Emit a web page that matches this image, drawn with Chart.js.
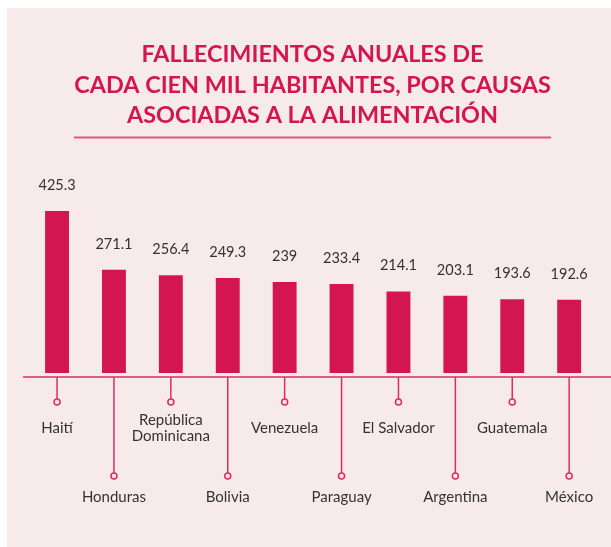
<!DOCTYPE html>
<html>
<head>
<meta charset="utf-8">
<script src="https://cdn.jsdelivr.net/npm/chart.js@4"></script>
<style>
  html, body { margin: 0; padding: 0; background: #ffffff; }
  #wrap { width: 611px; height: 547px; position: relative; }
</style>
</head>
<body>
<div id="wrap"><canvas id="c" width="611" height="547"></canvas></div>
<script>
const titleLines = [
  "FALLECIMIENTOS ANUALES DE",
  "CADA CIEN MIL HABITANTES, POR CAUSAS",
  "ASOCIADAS A LA ALIMENTACIÓN"
];
const categories = [
  "Haití", "Honduras", ["República", "Dominicana"], "Bolivia", "Venezuela",
  "Paraguay", "El Salvador", "Argentina", "Guatemala", "México"
];
const values = [425.3, 271.1, 256.4, 249.3, 239, 233.4, 214.1, 203.1, 193.6, 192.6];
const valueLabels = ["425.3", "271.1", "256.4", "249.3", "239", "233.4", "214.1", "203.1", "193.6", "192.6"];

const BG = "#f7eaea";
const CRIMSON = "#d31551";
const LINE = "#dc2c64";
const TEXT = "#333333";

const decorPlugin = {
  id: "decor",
  beforeDraw(chart) {
    const ctx = chart.ctx;
    ctx.save();
    ctx.fillStyle = "#ffffff";
    ctx.fillRect(0, 0, chart.width, chart.height);
    ctx.fillStyle = BG;
    ctx.fillRect(7, 8, chart.width - 7, chart.height - 8);
    // title
    ctx.fillStyle = CRIMSON;
    ctx.font = "bold 23.4px Lato";
    ctx.textAlign = "center";
    ctx.textBaseline = "alphabetic";
    const cx = 312.5;
    const ys = [62, 93, 123];
    titleLines.forEach((t, i) => ctx.fillText(t, cx, ys[i]));
    // rule
    ctx.strokeStyle = "#e0557d";
    ctx.lineWidth = 2;
    ctx.beginPath();
    ctx.moveTo(74, 137.5);
    ctx.lineTo(551, 137.5);
    ctx.stroke();
    ctx.restore();
  },
  afterDatasetsDraw(chart) {
    const ctx = chart.ctx;
    const xs = chart.scales.x;
    const ys = chart.scales.y;
    const area = chart.chartArea;
    const axisY = area.bottom;
    ctx.save();
    // axis line
    ctx.strokeStyle = LINE;
    ctx.lineWidth = 1.6;
    ctx.beginPath();
    ctx.moveTo(23, axisY);
    ctx.lineTo(chart.width, axisY);
    ctx.stroke();
    // value labels
    ctx.fillStyle = TEXT;
    ctx.font = "14.5px Lato";
    ctx.textAlign = "center";
    ctx.textBaseline = "alphabetic";
    values.forEach((v, i) => {
      const x = xs.getPixelForValue(i);
      const y = ys.getPixelForValue(v);
      ctx.fillText(valueLabels[i], x, y - 21);
    });
    // category ticks, circles and labels
    ctx.font = "15px Lato";
    ctx.textBaseline = "middle";
    categories.forEach((c, i) => {
      const x = xs.getPixelForValue(i);
      const low = i % 2 === 1;
      const cy = low ? 476 : 402;
      const ly = low ? 497 : 428;
      ctx.strokeStyle = LINE;
      ctx.lineWidth = 1.5;
      ctx.beginPath();
      ctx.moveTo(x, axisY);
      ctx.lineTo(x, cy - 3);
      ctx.stroke();
      ctx.beginPath();
      ctx.arc(x, cy, 3, 0, Math.PI * 2);
      ctx.fillStyle = BG;
      ctx.fill();
      ctx.stroke();
      ctx.fillStyle = TEXT;
      if (Array.isArray(c)) {
        ctx.fillText(c[0], x, ly - 8);
        ctx.fillText(c[1], x, ly + 8);
      } else {
        ctx.fillText(c, x, ly);
      }
    });
    ctx.restore();
  }
};

new Chart(document.getElementById("c"), {
  type: "bar",
  data: {
    labels: categories,
    datasets: [{
      data: values,
      backgroundColor: CRIMSON,
      borderWidth: 0,
      barPercentage: 0.42,
      categoryPercentage: 1.0
    }]
  },
  options: {
    responsive: false,
    animation: false,
    devicePixelRatio: 1,
    layout: { padding: { left: 28.6, right: 13.4, top: 160, bottom: 170 } },
    plugins: { legend: { display: false }, tooltip: { enabled: false }, title: { display: false } },
    scales: {
      x: { display: false },
      y: { display: false, min: -10.5, max: 559.2 }
    }
  },
  plugins: [decorPlugin]
});
</script>
</body>
</html>
